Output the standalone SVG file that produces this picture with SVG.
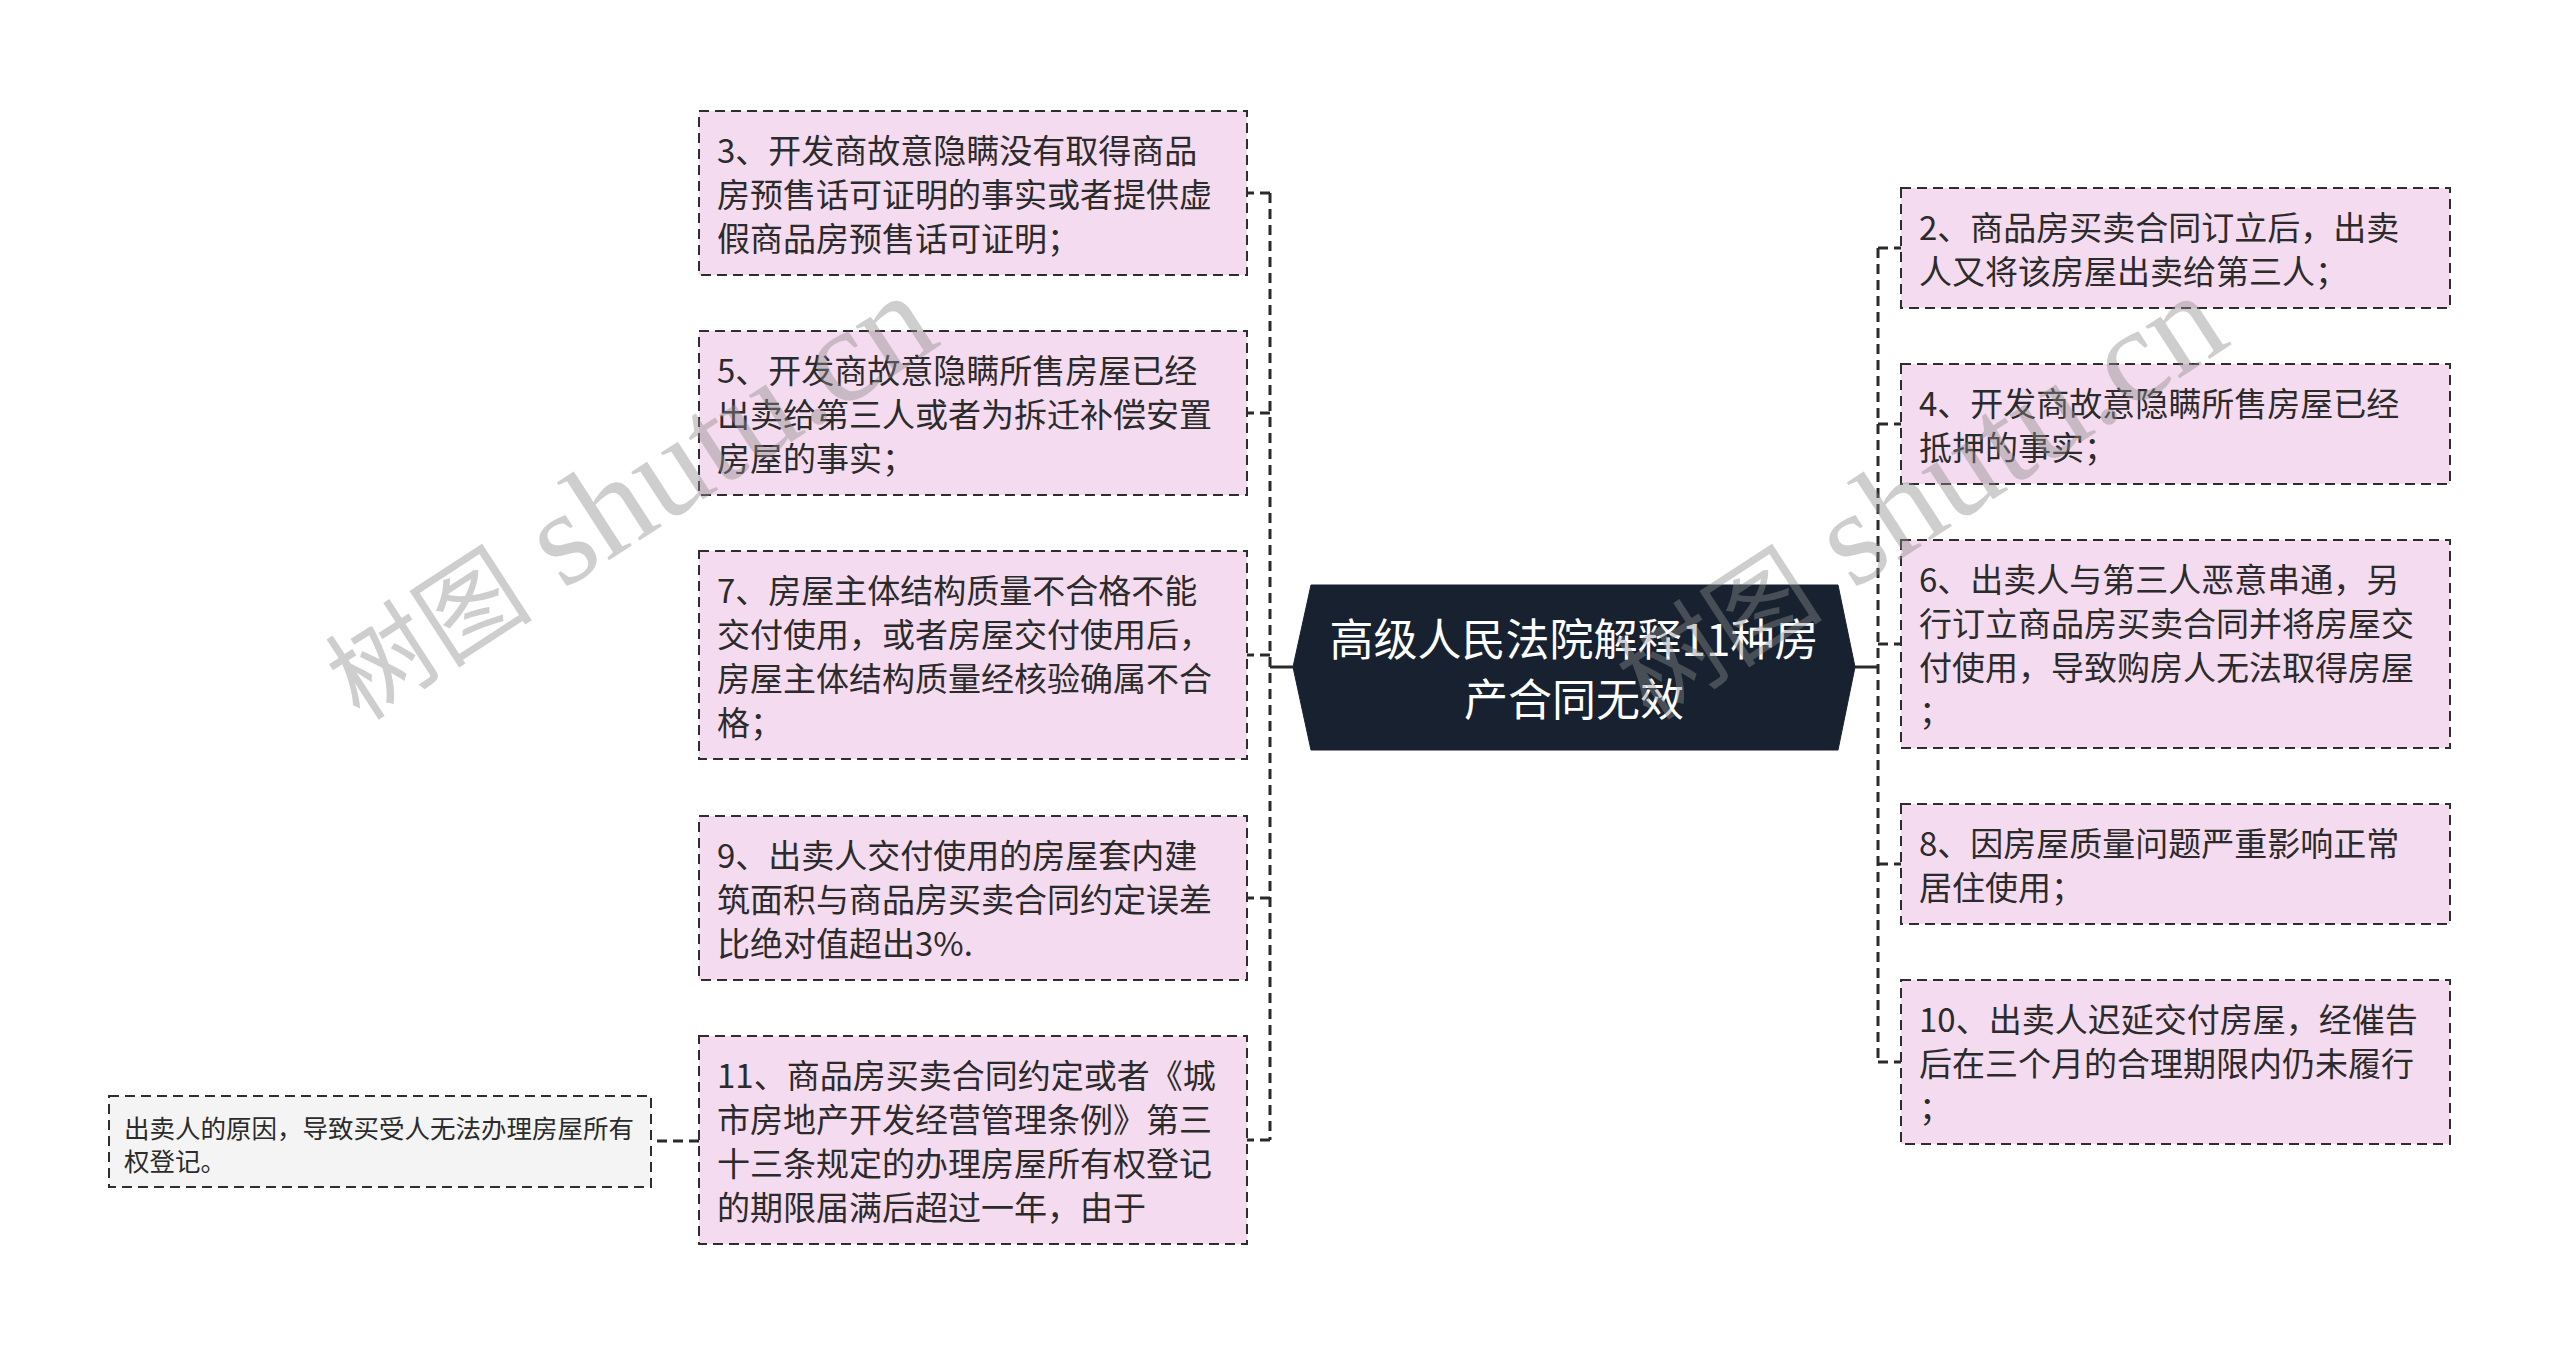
<svg xmlns="http://www.w3.org/2000/svg" width="2560" height="1357" viewBox="0 0 2560 1357">
<defs>
<style>
.bg{fill:#ffffff}
.box{fill:#f5dbef;stroke:#2e2e2e;stroke-width:2;stroke-dasharray:10 6}
.leaf{fill:#f4f4f4;stroke:#2e2e2e;stroke-width:2;stroke-dasharray:10 6}
.root{fill:#172130;stroke:#172130;stroke-width:1}
.t{font-family:"Noto Sans CJK SC","Noto Sans",sans-serif;font-size:33px;fill:#2b2b2b;dominant-baseline:central}
.ts{font-family:"Noto Sans CJK SC","Noto Sans",sans-serif;font-size:25.5px;fill:#2b2b2b;dominant-baseline:central}
.tr{font-family:"Noto Sans CJK SC","Noto Sans",sans-serif;font-size:44px;fill:#ffffff;text-anchor:middle;dominant-baseline:central}
.dash{fill:none;stroke:#2a2a2a;stroke-width:3;stroke-dasharray:10 6}
.solid{fill:none;stroke:#2a2a2a;stroke-width:3}
.wm{font-family:"Liberation Serif","Noto Sans CJK SC",serif;font-size:135px;fill:#8c8c8c;opacity:0.42}
.wmc{font-size:104px}
</style>
</defs>
<rect class="bg" x="0" y="0" width="2560" height="1357"/>

<g id="connectors">
<path class="solid" d="M1293 667 H1270"/>
<path class="dash" d="M1270 193 V1140"/>
<path class="dash" d="M1270 193 H1247"/>
<path class="dash" d="M1270 413 H1247"/>
<path class="dash" d="M1270 655 H1247"/>
<path class="dash" d="M1270 898 H1247"/>
<path class="dash" d="M1270 1140 H1247"/>
<path class="solid" d="M1855 667 H1878"/>
<path class="dash" d="M1878 248 V1062"/>
<path class="dash" d="M1878 248 H1901"/>
<path class="dash" d="M1878 424 H1901"/>
<path class="dash" d="M1878 644 H1901"/>
<path class="dash" d="M1878 864 H1901"/>
<path class="dash" d="M1878 1062 H1901"/>
<path class="dash" d="M699 1141 H651"/>
</g>

<g id="root">
<polygon class="root" points="1293,667 1311,585 1838,585 1855,667 1838,750 1311,750"/>
<text class="tr" x="1574" y="637">高级人民法院解释11种房</text>
<text class="tr" x="1574" y="697">产合同无效</text>
</g>

<g id="n3">
<rect class="box" x="699" y="111" width="548" height="164"/>
<text class="t" x="717" y="149">3、开发商故意隐瞒没有取得商品</text>
<text class="t" x="717" y="193">房预售话可证明的事实或者提供虚</text>
<text class="t" x="717" y="237">假商品房预售话可证明；</text>
</g>
<g id="n5">
<rect class="box" x="699" y="331" width="548" height="164"/>
<text class="t" x="717" y="369">5、开发商故意隐瞒所售房屋已经</text>
<text class="t" x="717" y="413">出卖给第三人或者为拆迁补偿安置</text>
<text class="t" x="717" y="457">房屋的事实；</text>
</g>
<g id="n7">
<rect class="box" x="699" y="551" width="548" height="208"/>
<text class="t" x="717" y="589">7、房屋主体结构质量不合格不能</text>
<text class="t" x="717" y="633">交付使用，或者房屋交付使用后，</text>
<text class="t" x="717" y="677">房屋主体结构质量经核验确属不合</text>
<text class="t" x="717" y="721">格；</text>
</g>
<g id="n9">
<rect class="box" x="699" y="816" width="548" height="164"/>
<text class="t" x="717" y="854">9、出卖人交付使用的房屋套内建</text>
<text class="t" x="717" y="898">筑面积与商品房买卖合同约定误差</text>
<text class="t" x="717" y="942">比绝对值超出3%.</text>
</g>
<g id="n11">
<rect class="box" x="699" y="1036" width="548" height="208"/>
<text class="t" x="717" y="1074">11、商品房买卖合同约定或者《城</text>
<text class="t" x="717" y="1118">市房地产开发经营管理条例》第三</text>
<text class="t" x="717" y="1162">十三条规定的办理房屋所有权登记</text>
<text class="t" x="717" y="1206">的期限届满后超过一年，由于</text>
</g>
<g id="n11a">
<rect class="leaf" x="109" y="1096" width="542" height="91"/>
<text class="ts" x="124" y="1126">出卖人的原因，导致买受人无法办理房屋所有</text>
<text class="ts" x="124" y="1159">权登记。</text>
</g>

<g id="n2">
<rect class="box" x="1901" y="188" width="549" height="120"/>
<text class="t" x="1919" y="226">2、商品房买卖合同订立后，出卖</text>
<text class="t" x="1919" y="270">人又将该房屋出卖给第三人；</text>
</g>
<g id="n4">
<rect class="box" x="1901" y="364" width="549" height="120"/>
<text class="t" x="1919" y="402">4、开发商故意隐瞒所售房屋已经</text>
<text class="t" x="1919" y="446">抵押的事实；</text>
</g>
<g id="n6">
<rect class="box" x="1901" y="540" width="549" height="208"/>
<text class="t" x="1919" y="578">6、出卖人与第三人恶意串通，另</text>
<text class="t" x="1919" y="622">行订立商品房买卖合同并将房屋交</text>
<text class="t" x="1919" y="666">付使用，导致购房人无法取得房屋</text>
<text class="t" x="1919" y="710">；</text>
</g>
<g id="n8">
<rect class="box" x="1901" y="804" width="549" height="120"/>
<text class="t" x="1919" y="842">8、因房屋质量问题严重影响正常</text>
<text class="t" x="1919" y="886">居住使用；</text>
</g>
<g id="n10">
<rect class="box" x="1901" y="980" width="549" height="164"/>
<text class="t" x="1919" y="1018">10、出卖人迟延交付房屋，经催告</text>
<text class="t" x="1919" y="1062">后在三个月的合理期限内仍未履行</text>
<text class="t" x="1919" y="1106">；</text>
</g>

<g id="watermark">
<text class="wm" transform="translate(360 722) rotate(-33)"><tspan class="wmc">树图</tspan> shutu.cn</text>
<text class="wm" transform="translate(1650 722) rotate(-33)"><tspan class="wmc">树图</tspan> shutu.cn</text>
<text class="wm" transform="translate(365 1780) rotate(-33)"><tspan class="wmc">树图</tspan> shutu.cn</text>
<text class="wm" transform="translate(1655 1780) rotate(-33)"><tspan class="wmc">树图</tspan> shutu.cn</text>
</g>
</svg>
